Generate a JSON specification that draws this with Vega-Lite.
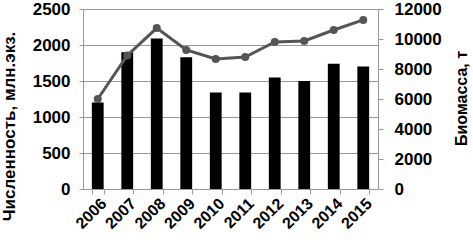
{
  "$schema": "https://vega.github.io/schema/vega-lite/v6.json",
  "width": 295,
  "height": 180,
  "autosize": "none",
  "padding": {"left": 83, "top": 9, "right": 95, "bottom": 60},
  "background": "white",
  "config": {
    "view": {"stroke": null},
    "font": "Liberation Sans",
    "axis": {
      "labelFont": "Liberation Sans",
      "titleFont": "Liberation Sans",
      "labelFontWeight": "bold",
      "titleFontWeight": "bold",
      "labelColor": "#000",
      "titleColor": "#000",
      "domainColor": "#999",
      "tickColor": "#999",
      "gridColor": "#999"
    }
  },
  "data": {
    "values": [
      {"year": "2006", "count": 1200, "biomass": 6000},
      {"year": "2007", "count": 1900, "biomass": 8900},
      {"year": "2008", "count": 2090, "biomass": 10730},
      {"year": "2009", "count": 1830, "biomass": 9270},
      {"year": "2010", "count": 1340, "biomass": 8670},
      {"year": "2011", "count": 1340, "biomass": 8800},
      {"year": "2012", "count": 1550, "biomass": 9800},
      {"year": "2013", "count": 1500, "biomass": 9870},
      {"year": "2014", "count": 1740, "biomass": 10600},
      {"year": "2015", "count": 1700, "biomass": 11270}
    ]
  },
  "encoding": {
    "x": {
      "field": "year",
      "type": "nominal",
      "scale": {"paddingInner": 0.6, "paddingOuter": 0.3},
      "axis": {
        "title": null,
        "labelAngle": -45,
        "labelFontSize": 16,
        "tickBand": "extent",
        "tickSize": 5,
        "labelPadding": 1,
        "domainColor": "#999"
      }
    }
  },
  "layer": [
    {
      "mark": {"type": "bar", "color": "#000"},
      "encoding": {
        "y": {
          "field": "count",
          "type": "quantitative",
          "scale": {"domain": [0, 2500]},
          "axis": {
            "title": "Численность, млн.экз.",
            "titleFontSize": 17,
            "labelFontSize": 17,
            "format": "d",
            "values": [0, 500, 1000, 1500, 2000, 2500],
            "grid": true,
            "tickSize": 4,
            "labelPadding": 9,
            "titleX": -65,
            "titleY": 117,
            "titleAnchor": null
          }
        }
      }
    },
    {
      "mark": {"type": "line", "color": "#555", "strokeWidth": 3, "point": {"color": "#555", "size": 64, "filled": true}},
      "encoding": {
        "y": {
          "field": "biomass",
          "type": "quantitative",
          "scale": {"domain": [0, 12000]},
          "axis": {
            "orient": "right",
            "title": "Биомасса, т",
            "titleFontSize": 16,
            "labelFontSize": 17,
            "format": "d",
            "values": [0, 2000, 4000, 6000, 8000, 10000, 12000],
            "grid": false,
            "tickSize": 5,
            "labelPadding": 11,
            "titleAngle": 270,
            "titleAlign": "center",
            "titleBaseline": "middle",
            "titleX": 83,
            "titleY": 89,
            "titleAnchor": null
          }
        }
      }
    }
  ],
  "resolve": {"scale": {"y": "independent"}}
}
